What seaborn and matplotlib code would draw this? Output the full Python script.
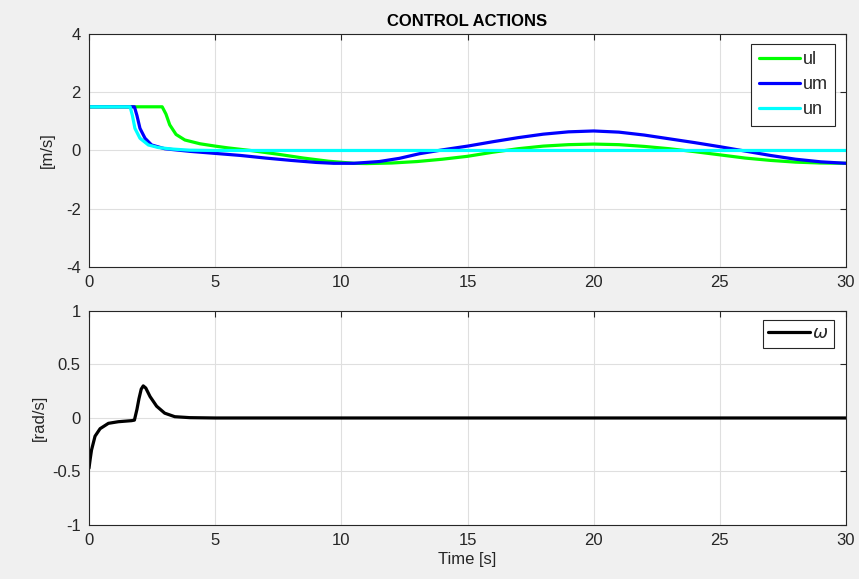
import matplotlib
matplotlib.use('Agg')
import matplotlib.pyplot as plt
import seaborn as sns
import pandas as pd

# values
t_ul = [0, 2.9, 3.05, 3.2, 3.45, 3.8, 4.4, 5.0, 5.5, 6.4, 7.5, 8.5, 9.5, 10.5, 11.0,
        12.0, 13.0, 14.0, 15.0, 16.0, 17.0, 18.0, 19.0, 20.0, 21.0, 22.0, 23.0,
        24.0, 25.0, 26.0, 27.0, 28.0, 29.0, 30.0]
ul = [1.5, 1.5, 1.25, 0.88, 0.55, 0.36, 0.23, 0.15, 0.09, 0.0, -0.13, -0.26, -0.37,
      -0.44, -0.45, -0.43, -0.38, -0.30, -0.20, -0.06, 0.06, 0.15, 0.20, 0.22, 0.20,
      0.14, 0.06, -0.04, -0.15, -0.26, -0.34, -0.40, -0.43, -0.44]

t_um = [0, 1.8, 1.9, 2.02, 2.22, 2.48, 3.0, 4.0, 5.0, 6.0, 7.0, 8.0, 9.0, 9.7, 10.5,
        11.5, 12.3, 13.1, 14.0, 15.0, 16.0, 17.0, 18.0, 19.0, 20.0, 21.0, 22.0,
        23.0, 24.0, 25.0, 26.0, 27.0, 28.0, 29.0, 30.0]
um = [1.5, 1.5, 1.2, 0.76, 0.42, 0.19, 0.06, -0.03, -0.10, -0.17, -0.26, -0.34, -0.41,
      -0.44, -0.44, -0.38, -0.27, -0.11, 0.02, 0.15, 0.30, 0.44, 0.56, 0.64, 0.67,
      0.63, 0.53, 0.40, 0.27, 0.13, -0.02, -0.17, -0.30, -0.39, -0.44]

t_un = [0, 1.63, 1.72, 1.82, 2.02, 2.35, 2.75, 3.28, 4.0, 5.0, 30.0]
un = [1.5, 1.5, 1.2, 0.76, 0.42, 0.19, 0.10, 0.05, 0.01, 0.0, 0.0]

t_w = [0, 0.05, 0.1, 0.24, 0.44, 0.77, 1.16, 1.69, 1.8, 1.9, 1.98, 2.07, 2.15, 2.25,
       2.42, 2.68, 3.0, 3.4, 4.0, 5.0, 30.0]
w = [-0.47, -0.38, -0.30, -0.17, -0.10, -0.05, -0.035, -0.025, -0.02, 0.08, 0.18,
     0.27, 0.30, 0.28, 0.20, 0.11, 0.045, 0.012, 0.003, 0.0, 0.0]

x_ticks = [0, 5, 10, 15, 20, 25, 30]
top_yticks = [-4, -2, 0, 2, 4]
bot_yticks = [-1, -0.5, 0, 0.5, 1]
bot_ylabels = ['-1', '-0.5', '0', '0.5', '1']

sns.set_style('white')
plt.rcParams['font.family'] = ['Liberation Sans', 'DejaVu Sans']
plt.rcParams['mathtext.fontset'] = 'dejavusans'
plt.rcParams['axes.unicode_minus'] = False

axc = '#262626'
fig = plt.figure(figsize=(8.59, 5.79), dpi=100, facecolor='#F0F0F0')
ax1 = fig.add_axes([0.1036, 0.5389, 0.8813, 0.4024])
ax2 = fig.add_axes([0.1036, 0.0933, 0.8813, 0.3696])

top = pd.concat([
    pd.DataFrame({'t': t_ul, 'v': ul, 's': 'ul'}),
    pd.DataFrame({'t': t_um, 'v': um, 's': 'um'}),
    pd.DataFrame({'t': t_un, 'v': un, 's': 'un'}),
])
sns.lineplot(data=top, x='t', y='v', hue='s', ax=ax1, linewidth=2.3,
             palette={'ul': '#00FF00', 'um': '#0000FF', 'un': '#00FFFF'})
bot = pd.DataFrame({'t': t_w, 'v': w, 's': r'$\omega$'})
sns.lineplot(data=bot, x='t', y='v', hue='s', ax=ax2, linewidth=2.3,
             palette={r'$\omega$': 'black'})

for ax in (ax1, ax2):
    ax.set_xlim(0, 30)
    ax.set_xticks(x_ticks)
    ax.set_facecolor('white')
    ax.grid(True, color='#DFDFDF', linewidth=0.8)
    ax.tick_params(direction='in', length=4, width=0.8, colors=axc,
                   labelcolor=axc, labelsize=12, top=True, right=True,
                   pad=6)
    for sp in ax.spines.values():
        sp.set_color(axc)
        sp.set_linewidth(0.8)
    ax.set_xlabel('')

ax1.set_ylim(-4, 4)
ax1.set_yticks(top_yticks)
ax1.set_ylabel('[m/s]', fontsize=12, color=axc, labelpad=8)
ax1.set_title('CONTROL ACTIONS', fontsize=12, fontweight='bold', color='black', pad=6)

ax2.set_ylim(-1, 1)
ax2.set_yticks(bot_yticks)
ax2.set_yticklabels(bot_ylabels)
ax2.set_ylabel('[rad/s]', fontsize=12, color=axc, labelpad=4)
ax2.set_xlabel('Time [s]', fontsize=12, color=axc, labelpad=3)

leg1 = ax1.legend(loc='upper right', fontsize=13, handlelength=2.3,
                  handletextpad=0.15, borderpad=0.4, labelspacing=0.45,
                  borderaxespad=0, fancybox=False, framealpha=1,
                  edgecolor='#262626', bbox_to_anchor=(0.9855, 0.957))
leg1.get_frame().set_linewidth(0.8)
leg2 = ax2.legend(loc='upper right', fontsize=13, handlelength=2.3,
                  handletextpad=0.15, borderpad=0.3, borderaxespad=0,
                  fancybox=False, framealpha=1, edgecolor='#262626',
                  bbox_to_anchor=(0.984, 0.958))
leg2.get_frame().set_linewidth(0.8)

fig.savefig('out.png', dpi=100, facecolor=fig.get_facecolor())
